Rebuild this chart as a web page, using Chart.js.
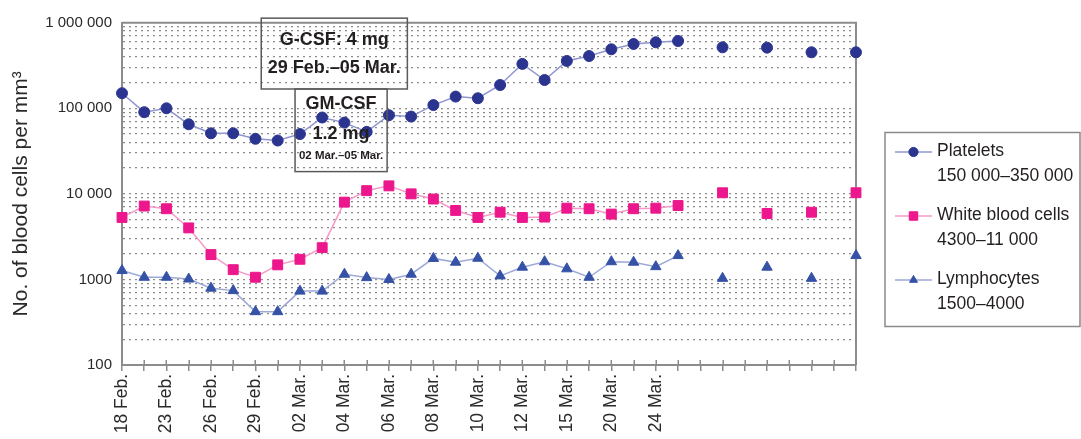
<!DOCTYPE html>
<html>
<head>
<meta charset="utf-8">
<script src="https://cdn.jsdelivr.net/npm/chart.js@4.4.1/dist/chart.umd.min.js"></script>
<style>
  html, body { margin: 0; padding: 0; background: #ffffff; }
  #wrap { position: relative; width: 1081px; height: 439px; }
</style>
</head>
<body>
<div id="wrap"><canvas id="c" width="1081" height="439"></canvas></div>
<script>
// Sampling days along the x axis (only some of them carry a printed label)
const tickLabels = [
  '18 Feb.', '', '23 Feb.', '', '26 Feb.', '', '29 Feb.', '', '02 Mar.', '',
  '04 Mar.', '', '06 Mar.', '', '08 Mar.', '', '10 Mar.', '', '12 Mar.', '',
  '15 Mar.', '', '20 Mar.', '', '24 Mar.', '', '', '', '', '',
  '', '', '', ''
];

// Counts per mm³ (null = no sample that day)
const platelets = [
  150000, 90000, 100000, 65000, 51000, 51000, 44000, 42000, 50000, 78000,
  68000, 53000, 83000, 80000, 109000, 137000, 131000, 187000, 330000, 214000,
  357000, 408000, 489000, 564000, 590000, 611000, null, 516000, null, 511000,
  null, 451000, null, 451000
];
const whiteBloodCells = [
  5300, 7200, 6700, 4000, 1950, 1300, 1060, 1480, 1720, 2350,
  8000, 10900, 12400, 10000, 8700, 6400, 5300, 6100, 5300, 5350,
  6800, 6700, 5800, 6700, 6800, 7300, null, 10300, null, 5900,
  null, 6100, null, 10300
];
const lymphocytes = [
  1270, 1060, 1060, 1010, 790, 740, 420, 420, 730, 730,
  1150, 1050, 1000, 1150, 1760, 1590, 1770, 1100, 1390, 1610,
  1330, 1060, 1610, 1590, 1410, 1900, null, 1030, null, 1390,
  null, 1030, null, 1900
];

const seriesNames = ['Platelets', 'White blood cells', 'Lymphocytes'];
const normalRanges = ['150 000–350 000', '4300–11 000', '1500–4000'];

// Log-axis gridlines (1..9 per decade) and the printed decade labels
const yGridValues = [];
for (let e = 2; e < 6; e++) for (let s = 1; s < 10; s++) yGridValues.push(s * Math.pow(10, e));
yGridValues.push(1000000);
const yTickText = { 100: '100', 1000: '1000', 10000: '10 000', 100000: '100 000', 1000000: '1 000 000' };

// Treatment notes: category-index span and value span of each box
const doseNotes = [
  { lines: ['G-CSF: 4 mg', '29 Feb.–05 Mar.'], from: 6.26, to: 12.83, high: 1130000, low: 168000 },
  { lines: ['GM-CSF', '1.2 mg', '02 Mar.–05 Mar.'], from: 7.78, to: 11.92, high: 168000, low: 18200 }
];

const FONT = "'Liberation Sans', Arial, Helvetica, sans-serif";
const AXIS_GREY = '#8c8c8c';
const INK = '#231f20';

const noteLayout = [
  { fracs: [0.31, 0.71], sizes: [18, 18] },
  { fracs: [0.185, 0.545, 0.81], sizes: [18, 18, 11.5] }
];

const decorPlugin = {
  id: 'decor',
  beforeDatasetsDraw(chart) {
    const { ctx, chartArea: { left, right, top, bottom } } = chart;
    ctx.save();
    ctx.strokeStyle = AXIS_GREY;
    ctx.lineWidth = 2;
    ctx.beginPath();
    ctx.moveTo(left, top);
    ctx.lineTo(right, top);
    ctx.lineTo(right, bottom);
    ctx.stroke();
    // upper half of the x tick marks, crossing the axis
    const xs = chart.scales.x;
    ctx.lineWidth = 1.5;
    xs.ticks.forEach((t, i) => {
      const x = Math.round(xs.getPixelForTick(i)) + 0.25;
      ctx.beginPath();
      ctx.moveTo(x, bottom - 5);
      ctx.lineTo(x, bottom);
      ctx.stroke();
    });
    ctx.restore();
  },
  afterDatasetsDraw(chart) {
    const { ctx } = chart;
    const xs = chart.scales.x, ys = chart.scales.y;
    ctx.save();
    doseNotes.forEach((note, k) => {
      const x1 = xs.getPixelForValue(note.from), x2 = xs.getPixelForValue(note.to);
      const y1 = ys.getPixelForValue(note.high), y2 = ys.getPixelForValue(note.low);
      ctx.strokeStyle = '#5a5a5a';
      ctx.lineWidth = 1.5;
      ctx.strokeRect(x1, y1, x2 - x1, y2 - y1);
      const lay = noteLayout[k];
      ctx.fillStyle = INK;
      ctx.textAlign = 'center';
      ctx.textBaseline = 'middle';
      note.lines.forEach((txt, j) => {
        ctx.font = 'bold ' + lay.sizes[j] + 'px ' + FONT;
        ctx.fillText(txt, (x1 + x2) / 2, y1 + (y2 - y1) * lay.fracs[j]);
      });
    });
    ctx.restore();
  },
  afterDraw(chart) {
    const { ctx, chartArea } = chart;
    const bx = chartArea.right + 29, by = 132.5, bw = 1081 - bx - 1, bh = 194;
    ctx.save();
    ctx.strokeStyle = '#8a8a8a';
    ctx.lineWidth = 1.5;
    ctx.strokeRect(bx, by, bw, bh);
    const draw = Chart.helpers && Chart.helpers.drawPoint;
    chart.data.datasets.forEach((ds, i) => {
      const my = by + 19.5 + i * 64;
      ctx.strokeStyle = ds.borderColor;
      ctx.lineWidth = 1.5;
      ctx.beginPath();
      ctx.moveTo(bx + 10, my);
      ctx.lineTo(bx + 47, my);
      ctx.stroke();
      ctx.fillStyle = ds.pointBackgroundColor;
      ctx.strokeStyle = ds.pointBackgroundColor;
      ctx.lineWidth = 1;
      if (draw) {
        draw(ctx, { pointStyle: ds.pointStyle, rotation: 0, radius: ds.pointStyle === 'rect' ? 6 : 4.6, borderWidth: 1 }, bx + 28.5, my);
      }
      ctx.fillStyle = INK;
      ctx.font = '17.5px ' + FONT;
      ctx.textAlign = 'left';
      ctx.textBaseline = 'middle';
      ctx.fillText(seriesNames[i], bx + 52, my - 1);
      ctx.fillText(normalRanges[i], bx + 52, my + 24.5);
    });
    ctx.restore();
  }
};

new Chart(document.getElementById('c'), {
  type: 'line',
  data: {
    labels: tickLabels,
    datasets: [
      {
        label: seriesNames[0], data: platelets,
        borderColor: '#9096cf', borderWidth: 1.5,
        pointStyle: 'circle', pointRadius: 5.5,
        pointBackgroundColor: '#2b3590', pointBorderColor: '#2b3590', pointBorderWidth: 1,
        spanGaps: false, clip: false, tension: 0
      },
      {
        label: seriesNames[1], data: whiteBloodCells,
        borderColor: '#f59ac8', borderWidth: 1.5,
        pointStyle: 'rect', pointRadius: 7,
        pointBackgroundColor: '#ec178c', pointBorderColor: '#ec178c', pointBorderWidth: 1,
        spanGaps: false, clip: false, tension: 0
      },
      {
        label: seriesNames[2], data: lymphocytes,
        borderColor: '#9ca9d9', borderWidth: 1.5,
        pointStyle: 'triangle', pointRadius: 6,
        pointBackgroundColor: '#3552a6', pointBorderColor: '#3552a6', pointBorderWidth: 1,
        spanGaps: false, clip: false, tension: 0
      }
    ]
  },
  options: {
    responsive: false,
    animation: false,
    events: [],
    layout: { padding: { left: 0, right: 225, top: 22.7, bottom: 0 } },
    plugins: { legend: { display: false }, tooltip: { enabled: false } },
    scales: {
      x: {
        type: 'category',
        offset: false,
        grid: { drawOnChartArea: false, drawTicks: true, tickLength: 6, color: AXIS_GREY, lineWidth: 1.5 },
        border: { color: AXIS_GREY, width: 2 },
        ticks: {
          autoSkip: false, minRotation: 90, maxRotation: 90, padding: 3,
          color: '#2a2a2a', font: { family: FONT, size: 17.5 }
        },
        afterFit(s) { s.height = 74; }
      },
      y: {
        type: 'logarithmic',
        min: 100,
        max: 1000000,
        afterBuildTicks(s) { s.ticks = yGridValues.map(v => ({ value: v })); },
        grid: {
          drawTicks: false,
          lineWidth: 1.3,
          color(ctx) {
            const v = ctx.tick && ctx.tick.value;
            return (v === 100 || v === 1000000) ? 'rgba(0,0,0,0)' : '#8a8a8a';
          }
        },
        border: { color: AXIS_GREY, width: 2, dash: [2, 4] },
        ticks: {
          autoSkip: false, padding: 10, color: '#2a2a2a',
          font: { family: FONT, size: 15 },
          callback(v) { return yTickText[v] || ''; }
        },
        title: {
          display: true, text: 'No. of blood cells per mm³', color: '#2a2a2a',
          font: { family: FONT, size: 21 }, padding: { top: 9, bottom: 0 }
        },
        afterFit(s) { s.width = 122; }
      }
    }
  },
  plugins: [decorPlugin]
});
</script>
</body>
</html>
